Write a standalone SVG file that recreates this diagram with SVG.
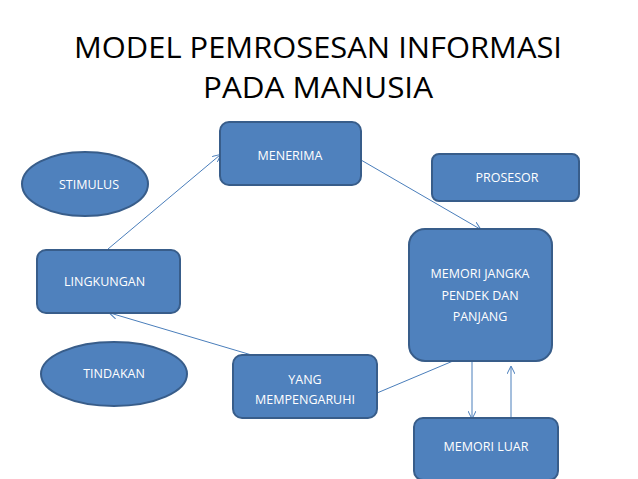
<svg xmlns="http://www.w3.org/2000/svg" width="638" height="479" viewBox="0 0 638 479">
<defs>
<marker id="a" markerWidth="8" markerHeight="8" refX="7" refY="4" orient="auto" markerUnits="userSpaceOnUse">
<path d="M0,0 L8,4 L0,8" fill="none" stroke="#4A7EBB" stroke-width="1"/>
</marker>
<style>
.n{fill:#4F81BD;stroke:#385D8A;stroke-width:2}
.t{font-family:"Open Sans","Liberation Sans",sans-serif;font-size:12.5px;fill:#fff}
.c{stroke:#4A7EBB;stroke-width:1;fill:none}
.h{font-family:"Open Sans","Liberation Sans",sans-serif;font-size:29px;fill:#000;text-anchor:middle}
</style>
</defs>
<rect width="638" height="479" fill="#fff"/>
<text class="h" x="318" y="58" textLength="488" lengthAdjust="spacingAndGlyphs">MODEL PEMROSESAN INFORMASI</text>
<text class="h" x="318" y="98" textLength="230" lengthAdjust="spacingAndGlyphs">PADA MANUSIA</text>
<g id="connectors">
<line class="c" x1="108" y1="249" x2="220" y2="155" marker-end="url(#a)"/>
<line class="c" x1="361" y1="160" x2="480" y2="229" marker-end="url(#a)"/>
<line class="c" x1="453" y1="361" x2="377" y2="393"/>
<line class="c" x1="255" y1="356" x2="110" y2="313" marker-end="url(#a)"/>
<line class="c" x1="472" y1="361" x2="472" y2="418" marker-end="url(#a)"/>
<line class="c" x1="511" y1="418" x2="511" y2="367" marker-end="url(#a)"/>
</g>
<g id="menerima"><rect class="n" x="220" y="122" width="141" height="63" rx="9"/><text class="t" x="290" y="160" text-anchor="middle">MENERIMA</text></g>
<g id="stimulus"><ellipse class="n" cx="85" cy="184" rx="63" ry="32"/><text class="t" x="59" y="189">STIMULUS</text></g>
<g id="prosesor"><rect class="n" x="432" y="154" width="147" height="47" rx="7"/><text class="t" x="507" y="182" text-anchor="middle">PROSESOR</text></g>
<g id="lingkungan"><rect class="n" x="37" y="250" width="143" height="63" rx="9"/><text class="t" x="64" y="286">LINGKUNGAN</text></g>
<g id="memori"><rect class="n" x="409" y="229" width="143" height="132" rx="16"/><text class="t" text-anchor="middle"><tspan x="480" y="278">MEMORI JANGKA</tspan><tspan x="480" y="300">PENDEK DAN</tspan><tspan x="480" y="321">PANJANG</tspan></text></g>
<g id="tindakan"><ellipse class="n" cx="114" cy="374" rx="73" ry="32"/><text class="t" x="114" y="378" text-anchor="middle">TINDAKAN</text></g>
<g id="yang"><rect class="n" x="233" y="355" width="144" height="63" rx="9"/><text class="t" text-anchor="middle"><tspan x="305" y="384">YANG</tspan><tspan x="305" y="404">MEMPENGARUHI</tspan></text></g>
<g id="memoriluar"><rect class="n" x="414" y="418" width="144" height="62" rx="9"/><text class="t" x="486" y="451" text-anchor="middle">MEMORI LUAR</text></g>
</svg>
